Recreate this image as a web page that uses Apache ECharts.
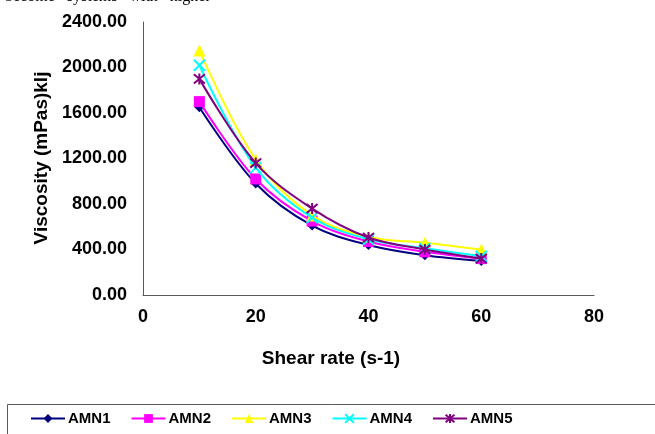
<!DOCTYPE html>
<html>
<head>
<meta charset="utf-8">
<script src="https://cdn.jsdelivr.net/npm/echarts@6/dist/echarts.min.js"></script>
<style>
html,body{margin:0;padding:0;background:#fff;}
#chart{width:655px;height:434px;}
</style>
</head>
<body>
<div id="chart"></div>
<script>
const shearRates = [10, 20, 30, 40, 50, 60];
const seriesNames = ['AMN1', 'AMN2', 'AMN3', 'AMN4', 'AMN5'];
const amn1 = [1650, 980, 610, 440, 350, 300];
const amn2 = [1700, 1020, 650, 470, 380, 320];
const amn3 = [2150, 1190, 700, 510, 460, 400];
const amn4 = [2020, 1120, 680, 490, 410, 340];
const amn5 = [1900, 1160, 760, 505, 400, 320];
const yTicks = [0, 400, 800, 1200, 1600, 2000, 2400];
const xTicks = [0, 20, 40, 60, 80];

const allValues = [amn1, amn2, amn3, amn4, amn5];
const colors = ['#000080', '#FF00FF', '#FFFF00', '#00FFFF', '#800080'];
const symbols = [
  'diamond',
  'rect',
  'triangle',
  'path://M0,0L10,10M10,0L0,10',
  'path://M0,0L10,10M10,0L0,10M5,-1L5,11'
];
const symbolSizes = [10, 11, 12, 11, 11];

const font = '"Liberation Sans", Arial, sans-serif';

const series = seriesNames.map((name, i) => {
  const stroked = i >= 3;
  return {
    name: name,
    type: 'line',
    smooth: 0.35,
    data: shearRates.map((x, j) => [x, allValues[i][j]]),
    symbol: symbols[i],
    symbolSize: symbolSizes[i],
    showAllSymbol: true,
    lineStyle: { color: colors[i], width: 2 },
    itemStyle: stroked
      ? { color: colors[i], borderColor: colors[i], borderWidth: 2 }
      : { color: colors[i], borderWidth: 0 },
    z: 2 + i
  };
});

const chart = echarts.init(document.getElementById('chart'), null, { renderer: 'canvas' });
chart.setOption({
  animation: false,
  backgroundColor: '#fff',
  grid: { left: 143, right: 61, top: 22, bottom: 139, containLabel: false },
  xAxis: {
    type: 'value',
    min: xTicks[0],
    max: xTicks[xTicks.length - 1],
    interval: 20,
    axisLine: { show: true, lineStyle: { color: '#595959', width: 1 } },
    axisTick: { show: false },
    splitLine: { show: false },
    axisLabel: { color: '#000', fontFamily: font, fontWeight: 'bold', fontSize: 18, margin: 13 }
  },
  yAxis: {
    type: 'value',
    min: yTicks[0],
    max: yTicks[yTicks.length - 1],
    interval: 400,
    axisLine: { show: true, lineStyle: { color: '#595959', width: 1 } },
    axisTick: { show: false },
    splitLine: { show: false },
    axisLabel: {
      color: '#000', fontFamily: font, fontWeight: 'bold', fontSize: 18, margin: 16,
      formatter: v => v.toFixed(2)
    }
  },
  legend: {
    show: true,
    left: 30,
    top: 411,
    itemWidth: 34,
    itemHeight: 11,
    itemGap: 20,
    padding: 0,
    textStyle: { color: '#000', fontFamily: font, fontWeight: 'bold', fontSize: 15, padding: [0, 0, 0, -2] },
    data: seriesNames
  },
  graphic: [
    {
      type: 'rect',
      shape: { x: 7.5, y: 404.5, width: 700, height: 60 },
      style: { fill: 'none', stroke: '#595959', lineWidth: 1 },
      silent: true, z: -1
    },
    {
      type: 'text',
      x: 42, y: 158,
      rotation: Math.PI / 2,
      style: {
        text: 'Viscosity (mPas)klj',
        font: 'bold 19px ' + font,
        fill: '#000',
        align: 'center',
        verticalAlign: 'middle'
      }
    },
    {
      type: 'text',
      x: 331, y: 359,
      style: {
        text: 'Shear rate (s-1)',
        font: 'bold 19px ' + font,
        fill: '#000',
        align: 'center',
        verticalAlign: 'middle'
      }
    },
    {
      type: 'text',
      x: 5, y: -11,
      style: {
        text: 'become   systems   with   higher',
        font: '16px "Liberation Serif", serif',
        fill: '#000',
        align: 'left',
        verticalAlign: 'top'
      }
    }
  ],
  series: series
});
</script>
</body>
</html>
